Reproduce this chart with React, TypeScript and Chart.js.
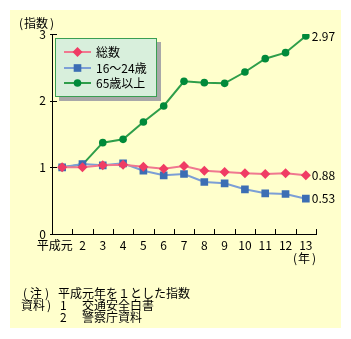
import React, { useEffect, useRef } from "react";
import { Chart, registerables } from "chart.js";

Chart.register(...registerables);

const categories = ["平成元　 ", "2", "3", "4", "5", "6", "7", "8", "9", "10", "11", "12", "13"];
const totalIndex = [1.0, 1.0, 1.03, 1.04, 1.01, 0.98, 1.02, 0.95, 0.93, 0.91, 0.9, 0.91, 0.88];
const youngIndex = [1.0, 1.05, 1.03, 1.06, 0.95, 0.88, 0.9, 0.78, 0.76, 0.67, 0.61, 0.6, 0.53];
const elderlyIndex = [1.0, 1.04, 1.37, 1.42, 1.68, 1.92, 2.29, 2.27, 2.26, 2.43, 2.63, 2.72, 2.97];
const seriesNames = ["総数", "16～24歳", "65歳以上"];
const endLabels = ["0.88", "0.53", "2.97"];
const yMin = 0;
const yMax = 3;
const yStep = 1;
const yTitle = "指数";
const xTitle = "年";
const noteHeads = ["注", "資料", ""];
const noteNums = ["", "1", "2"];
const noteTexts = ["平成元年を１とした指数", "交通安全白書", "警察庁資料"];

const FONT = "'Noto Sans CJK JP', 'Noto Sans', sans-serif";
const PANEL = "#ffffcc";

const lineColors = ["#f07890", "#7c9fd6", "#2e9e4a"];
const markColors = ["#f03c64", "#3c6eb4", "#008a3a"];
const markStyles = ["rectRot", "rect", "circle"];
const markRadius = [5, 5.4, 3.8];

function drawMarker(ctx: CanvasRenderingContext2D, style: string, x: number, y: number, r: number, color: string) {
  ctx.fillStyle = color;
  ctx.beginPath();
  if (style === "rectRot") {
    ctx.moveTo(x, y - r);
    ctx.lineTo(x + r, y);
    ctx.lineTo(x, y + r);
    ctx.lineTo(x - r, y);
    ctx.closePath();
  } else if (style === "rect") {
    const s = Math.SQRT1_2 * r;
    ctx.rect(x - s, y - s, 2 * s, 2 * s);
  } else {
    ctx.arc(x, y, r, 0, Math.PI * 2);
  }
  ctx.fill();
}

// draws "(" text ")" with separately placed parens
function parenText(ctx: CanvasRenderingContext2D, text: string, x: number, y: number, gapIn: number, closeGap: number) {
  ctx.fillText("(", x, y);
  const tx = x + gapIn;
  ctx.fillText(text, tx, y);
  const w = ctx.measureText(text).width;
  ctx.fillText(")", tx + w + closeGap, y);
}

const decor = {
  id: "decor",
  beforeDraw(chart: any) {
    const ctx = chart.ctx as CanvasRenderingContext2D;
    ctx.save();
    ctx.fillStyle = "#ffffff";
    ctx.fillRect(0, 0, chart.width, chart.height);
    ctx.fillStyle = PANEL;
    ctx.fillRect(10, 10, 331, 318);
    ctx.restore();
  },
  afterDraw(chart: any) {
    const ctx = chart.ctx as CanvasRenderingContext2D;
    const xs = chart.scales.x;
    const ys = chart.scales.y;
    const ca = chart.chartArea;
    ctx.save();
    ctx.strokeStyle = "#000";
    ctx.lineWidth = 1;
    for (let v = yMin; v <= yMax; v += yStep) {
      const y = Math.round(ys.getPixelForValue(v)) + 0.5;
      ctx.beginPath();
      ctx.moveTo(ca.left - 2, y);
      ctx.lineTo(ca.left + 5, y);
      ctx.stroke();
    }
    for (let i = 1; i <= categories.length; i++) {
      let x: number;
      if (i < categories.length) {
        x = (xs.getPixelForValue(i - 1) + xs.getPixelForValue(i)) / 2;
      } else {
        x = ca.right;
      }
      x = Math.round(x) + 0.5;
      ctx.beginPath();
      ctx.moveTo(x, ca.bottom);
      ctx.lineTo(x, ca.bottom - 5);
      ctx.stroke();
    }

    ctx.fillStyle = "#000";
    ctx.font = `12px ${FONT}`;
    ctx.textBaseline = "middle";
    ctx.textAlign = "left";
    parenText(ctx, yTitle, 19, 23, 5, 2);
    parenText(ctx, xTitle, 293, 258, 5, 2);

    [0, 1, 2].forEach((di) => {
      const meta = chart.getDatasetMeta(di);
      const last = meta.data[meta.data.length - 1];
      ctx.fillText(endLabels[di], last.x + 6, last.y);
    });

    // legend
    const lx = 55, ly = 38, lw = 102, lh = 59;
    ctx.fillStyle = "#a8a8a8";
    ctx.fillRect(lx + 4, ly + 4, lw, lh);
    ctx.fillStyle = "#d8efdc";
    ctx.fillRect(lx, ly, lw, lh);
    ctx.strokeStyle = "#3a9f52";
    ctx.lineWidth = 1;
    ctx.strokeRect(lx + 0.5, ly + 0.5, lw - 1, lh - 1);
    const rows = [52, 68, 83];
    seriesNames.forEach((name, i) => {
      const ry = rows[i];
      ctx.strokeStyle = lineColors[i];
      ctx.lineWidth = 2;
      ctx.beginPath();
      ctx.moveTo(64, ry);
      ctx.lineTo(91, ry);
      ctx.stroke();
      drawMarker(ctx, markStyles[i], 77.5, ry, markRadius[i], markColors[i]);
      ctx.fillStyle = "#000";
      ctx.fillText(name, 96, ry);
    });

    // notes
    const noteY = [293, 305, 317];
    noteTexts.forEach((t, i) => {
      const y = noteY[i];
      if (i === 0) {
        parenText(ctx, noteHeads[0], 23, y, 7, 3);
        ctx.fillText(t, 58, y);
      } else {
        if (noteHeads[i]) {
          ctx.fillText(noteHeads[i], 21, y);
          ctx.fillText(")", 47, y);
        }
        ctx.fillText(noteNums[i], 60, y);
        ctx.fillText(t, 82, y);
      }
    });
    ctx.restore();
  },
};

export default function App() {
  const ref = useRef<HTMLCanvasElement | null>(null);
  useEffect(() => {
    if (!ref.current) return;
    const series = [totalIndex, youngIndex, elderlyIndex];
    const chart = new Chart(ref.current, {
      type: "line",
      data: {
        labels: categories,
        datasets: series.map((d, i) => ({
          label: seriesNames[i],
          data: d,
          borderColor: lineColors[i],
          borderWidth: 2,
          backgroundColor: markColors[i],
          pointBackgroundColor: markColors[i],
          pointBorderWidth: 0,
          pointBorderColor: markColors[i],
          pointStyle: markStyles[i] as any,
          pointRadius: markRadius[i],
          tension: 0,
          fill: false,
        })),
      },
      options: {
        responsive: false,
        animation: false,
        devicePixelRatio: 1,
        layout: { padding: { left: 0, top: 34, right: 35, bottom: 0 } },
        plugins: { legend: { display: false }, tooltip: { enabled: false } },
        scales: {
          x: {
            offset: true,
            grid: { display: false, drawTicks: false, offset: true },
            border: { display: true, color: "#000", width: 1 },
            ticks: { color: "#000", font: { family: FONT, size: 12 }, padding: 4, maxRotation: 0, autoSkip: false },
            afterFit: (s: any) => { s.height = 105; },
          },
          y: {
            min: yMin,
            max: yMax,
            grid: { display: false, drawTicks: false },
            border: { display: true, color: "#000", width: 1 },
            ticks: { stepSize: yStep, color: "#000", font: { family: FONT, size: 12 }, padding: 6 },
            afterFit: (s: any) => { s.width = 52; },
          },
        },
      },
      plugins: [decor],
    });
    return () => chart.destroy();
  }, []);
  return (
    <div style={{ position: "absolute", left: 0, top: 0, width: 351, height: 339 }}>
      <canvas ref={ref} width={351} height={339} style={{ width: 351, height: 339, display: "block" }} />
    </div>
  );
}
